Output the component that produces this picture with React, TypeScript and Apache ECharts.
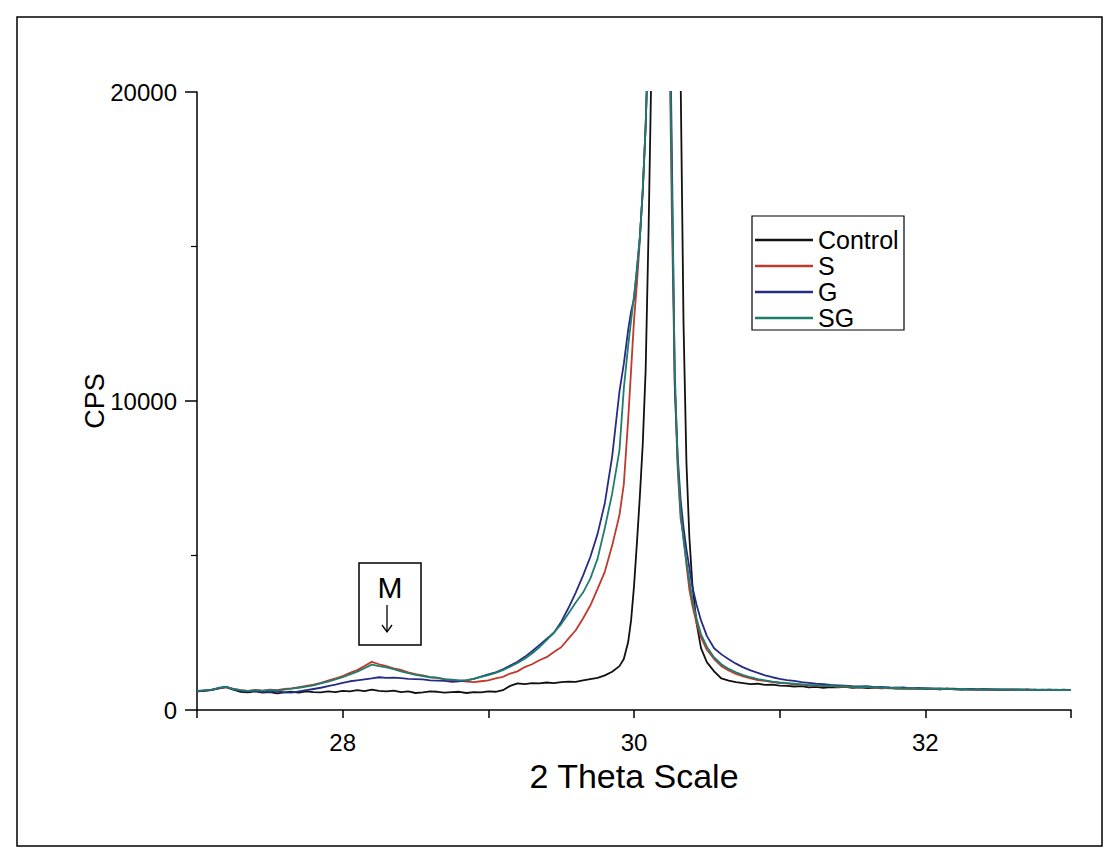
import React, { useEffect, useRef } from "react";
import * as echarts from "echarts";

// 2 Theta positions (shared by all series)
const twoTheta: number[] = [
  27.00, 27.05, 27.10, 27.15, 27.20, 27.25, 27.30, 27.35, 27.40, 27.45,
  27.50, 27.55, 27.60, 27.65, 27.70, 27.75, 27.80, 27.85, 27.90, 27.95,
  28.00, 28.05, 28.10, 28.15, 28.20, 28.25, 28.30, 28.35, 28.40, 28.45,
  28.50, 28.55, 28.60, 28.65, 28.70, 28.75, 28.80, 28.85, 28.90, 28.95,
  29.00, 29.05, 29.10, 29.15, 29.20, 29.25, 29.30, 29.35, 29.40, 29.45,
  29.50, 29.55, 29.60, 29.65, 29.70, 29.75, 29.80, 29.85, 29.90,
  29.93, 29.96, 29.98, 30.00, 30.02, 30.04, 30.06, 30.08, 30.10, 30.12,
  30.15, 30.18, 30.21, 30.24, 30.26, 30.28, 30.30, 30.32, 30.34, 30.36,
  30.38, 30.40, 30.43, 30.46, 30.50, 30.55,
  30.60, 30.65, 30.70, 30.75, 30.80, 30.85, 30.90, 30.95, 31.00, 31.05,
  31.10, 31.15, 31.20, 31.25, 31.30, 31.35, 31.40, 31.45, 31.50, 31.55,
  31.60, 31.65, 31.70, 31.75, 31.80, 31.85, 31.90, 31.95, 32.00, 32.05,
  32.10, 32.15, 32.20, 32.25, 32.30, 32.35, 32.40, 32.45, 32.50, 32.55,
  32.60, 32.65, 32.70, 32.75, 32.80, 32.85, 32.90, 32.95, 33.00,
];

const control: number[] = [
  600, 620, 640, 700, 740, 660, 590, 570, 600, 560,
  580, 540, 570, 590, 560, 600, 580, 570, 600, 580,
  620, 600, 640, 610, 660, 620, 600, 630, 580, 600,
  550, 570, 600, 590, 560, 580, 590, 550, 580, 570,
  600, 590, 640, 780, 860, 840, 870, 860, 890, 870,
  900, 920, 910, 960, 1000, 1040, 1120, 1240, 1420,
  1650, 2200, 2900, 4000, 5400, 6900, 8600, 11000, 15500, 21000,
  40000, 60000, 70000, 60000, 45000, 32000, 25000, 20500, 12500, 8000,
  5600, 4100, 2800, 2000, 1550, 1250,
  1020, 950, 900, 870, 840, 850, 810, 820, 790, 780,
  760, 770, 730, 750, 720, 740, 730, 750, 720, 730,
  710, 720, 700, 720, 690, 700, 690, 710, 680, 690,
  670, 690, 680, 660, 680, 670, 660, 670, 650, 670,
  660, 650, 670, 640, 660, 650, 640, 660, 640,
];

const sSeries: number[] = [
  620, 630, 650, 700, 740, 680, 640, 620, 650, 630,
  660, 640, 680, 700, 740, 780, 820, 880, 950, 1020,
  1100, 1200, 1290, 1420, 1560, 1480, 1420, 1350, 1300, 1220,
  1160, 1120, 1060, 1040, 990, 960, 950, 920, 900, 930,
  960, 1020, 1070, 1180, 1250, 1390, 1480, 1610, 1710, 1880,
  2030, 2310, 2580, 2960, 3380, 3920, 4480, 5320, 6300,
  7300, 9400, 11000, 12600, 13800, 15200, 16800, 18900, 22000, 30000,
  50000, 60000, 45000, 23000, 16000, 10500, 7800, 6200, 5600, 4700,
  3900, 3400, 2800, 2350, 1950, 1650,
  1420, 1280, 1170, 1090, 1020, 970, 940, 900, 870, 860,
  830, 820, 800, 790, 770, 780, 750, 760, 740, 730,
  740, 710, 720, 700, 710, 690, 700, 680, 700, 680,
  670, 690, 670, 680, 660, 670, 650, 670, 660, 650,
  670, 640, 660, 650, 640, 660, 640, 650, 640,
];

const gSeries: number[] = [
  610, 630, 660, 710, 750, 670, 630, 600, 620, 590,
  580, 600, 570, 560, 600, 640, 680, 720, 770, 820,
  880, 930, 960, 990, 1020, 1060, 1040, 1050, 1030, 1010,
  1000, 990, 960, 950, 940, 910, 930, 960, 1010, 1080,
  1150, 1220, 1320, 1440, 1560, 1720, 1900, 2100, 2300, 2500,
  2850, 3300, 3800, 4350, 4950, 5700, 6700, 8200, 10300,
  11200, 12300, 12900, 13300, 14300, 15300, 16800, 18900, 22000, 30000,
  50000, 60000, 45000, 25000, 18000, 10500, 8200, 6800, 5900, 5200,
  4600, 4000, 3400, 2900, 2400, 2000,
  1800, 1640, 1500, 1380, 1280, 1200, 1120, 1060, 1010, 970,
  940, 900, 880, 850, 840, 810, 800, 790, 770, 760,
  770, 740, 750, 730, 720, 730, 700, 710, 700, 690,
  700, 680, 690, 670, 680, 660, 680, 660, 670, 650,
  660, 670, 650, 660, 640, 660, 650, 640, 650,
];

const sgSeries: number[] = [
  620, 640, 650, 720, 750, 680, 640, 610, 640, 620,
  650, 630, 660, 690, 720, 760, 800, 860, 920, 990,
  1060, 1150, 1240, 1350, 1470, 1420, 1380, 1320, 1250, 1190,
  1140, 1100, 1060, 1050, 1000, 980, 960, 970, 1010, 1070,
  1130, 1200, 1290, 1400, 1520, 1660, 1830, 2030, 2260, 2500,
  2780, 3120, 3480, 3800, 4250, 4900, 5900, 7000, 8400,
  10400, 11800, 12600, 13400, 14200, 15300, 16800, 18900, 22000, 30000,
  50000, 60000, 45000, 24000, 17000, 11000, 8000, 6400, 5500, 4800,
  4200, 3600, 2950, 2450, 2050, 1700,
  1480, 1330, 1220, 1130, 1060, 1000, 960, 920, 890, 870,
  850, 830, 810, 800, 780, 790, 760, 770, 750, 740,
  750, 720, 730, 710, 720, 700, 710, 690, 700, 690,
  680, 690, 670, 680, 670, 660, 670, 650, 670, 660,
  650, 660, 640, 660, 650, 640, 660, 640, 650,
];

const seriesNames = ["Control", "S", "G", "SG"];
const seriesColors = ["#111111", "#c0392b", "#262c85", "#1f7d6e"];
const seriesValues = [control, sSeries, gSeries, sgSeries];

const FONT = "'Liberation Sans', Arial, sans-serif";

export default function App() {
  const ref = useRef<HTMLDivElement>(null);

  useEffect(() => {
    if (!ref.current) return;
    const chart = echarts.init(ref.current, null, { renderer: "svg" });
    const option: any = {
      animation: false,
      backgroundColor: "#ffffff",
      textStyle: { fontFamily: FONT, color: "#000" },
      grid: { left: 197, top: 92, width: 874, height: 618 },
      xAxis: {
        type: "value",
        min: 27,
        max: 33,
        interval: 1,
        name: "2 Theta Scale",
        nameLocation: "middle",
        nameGap: 47,
        nameTextStyle: { fontSize: 34, color: "#000", fontFamily: FONT },
        axisLine: { show: true, lineStyle: { color: "#000", width: 1.5 } },
        axisTick: { show: true, length: 8, lineStyle: { color: "#000", width: 1.5 } },
        axisLabel: {
          fontSize: 24,
          color: "#000",
          fontFamily: FONT,
          margin: 20,
          formatter: (v: number) => (Math.round(v) % 2 === 0 ? String(v) : ""),
        },
        splitLine: { show: false },
      },
      yAxis: {
        type: "value",
        min: 0,
        max: 20000,
        interval: 10000,
        name: "CPS",
        nameLocation: "middle",
        nameGap: 89,
        nameMoveOverlap: false,
        nameTextStyle: { fontSize: 27, color: "#000", fontFamily: FONT },
        axisLine: { show: true, lineStyle: { color: "#000", width: 1.5 } },
        axisTick: { show: true, length: 12, lineStyle: { color: "#000", width: 1.5 } },
        minorTick: { show: true, splitNumber: 2, length: 6, lineStyle: { color: "#000", width: 1.2 } },
        axisLabel: {
          fontSize: 24,
          color: "#000",
          fontFamily: FONT,
          margin: 20,
          formatter: (v: number) => String(v),
        },
        splitLine: { show: false },
        minorSplitLine: { show: false },
      },
      legend: {
        orient: "vertical",
        left: 755,
        top: 227,
        padding: 0,
        itemGap: 0,
        itemWidth: 58,
        itemHeight: 2.5,
        icon: "rect",
        textStyle: { fontSize: 25, color: "#000", fontFamily: FONT, lineHeight: 26 },
        data: seriesNames,
      },
      series: seriesNames.map((name, k) => ({
        name,
        type: "line",
        symbol: "none",
        clip: true,
        lineStyle: { color: seriesColors[k], width: 1.8 },
        itemStyle: { color: seriesColors[k] },
        data: twoTheta.map((x, i) => [x, seriesValues[k][i]]),
      })),
      graphic: [
        {
          type: "rect",
          shape: { x: 17, y: 17, width: 1085, height: 829 },
          style: { fill: "none", stroke: "#000", lineWidth: 1.5 },
          silent: true,
        },
        {
          type: "rect",
          shape: { x: 752, y: 216, width: 152, height: 114 },
          style: { fill: "none", stroke: "#000", lineWidth: 1.2 },
          silent: true,
        },
        {
          type: "rect",
          shape: { x: 359, y: 563, width: 62, height: 82 },
          style: { fill: "#fff", stroke: "#000", lineWidth: 1.5 },
          silent: true,
        },
        {
          type: "text",
          x: 390,
          y: 587,
          style: {
            text: "M",
            fontSize: 30,
            fontFamily: FONT,
            fill: "#000",
            textAlign: "center",
            textVerticalAlign: "middle",
          },
          silent: true,
        },
        {
          type: "line",
          shape: { x1: 387, y1: 605, x2: 387, y2: 632 },
          style: { stroke: "#000", lineWidth: 1.3 },
          silent: true,
        },
        {
          type: "polyline",
          shape: { points: [[382, 625], [387, 632], [392, 625]] },
          style: { stroke: "#000", lineWidth: 1.3, fill: "none" },
          silent: true,
        },
      ],
    };
    chart.setOption(option);
    return () => chart.dispose();
  }, []);

  return (
    <div
      ref={ref}
      style={{
        position: "fixed",
        left: 0,
        top: 0,
        width: 1119,
        height: 863,
        background: "#fff",
      }}
    />
  );
}
